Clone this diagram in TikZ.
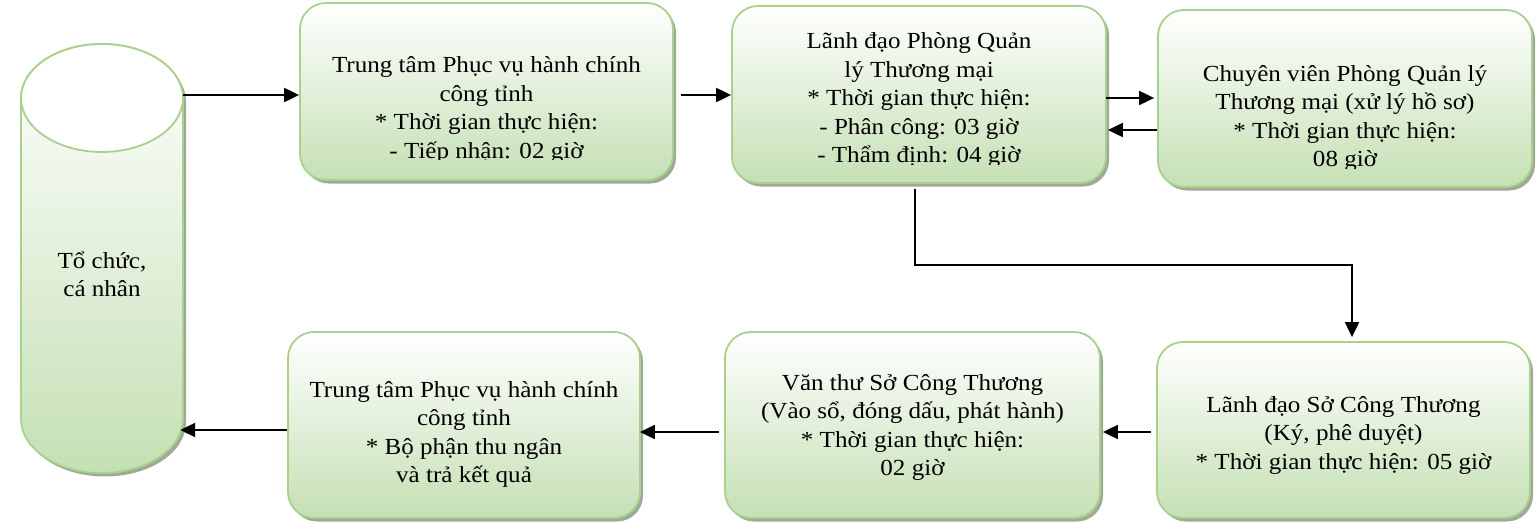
\documentclass[tikz,border=0pt]{standalone}
\usepackage{fontspec}
\setmainfont{Liberation Serif}[FakeStretch=1.09]
\usetikzlibrary{arrows.meta,shadows,calc}
\definecolor{gfill}{RGB}{197,224,180}
\definecolor{gline}{RGB}{169,209,142}
\definecolor{gshadow}{RGB}{150,160,140}
\begin{document}
\begin{tikzpicture}[x=1pt,y=-1pt,
  shad/.style={drop shadow={shadow xshift=3pt,shadow yshift=-3.5pt,fill=gshadow,opacity=0.9}},
  boxstyle/.style={draw=gline,line width=1.8pt,rounded corners=26pt,
    top color=white,bottom color=gfill,inner sep=0pt,shad},
  txt/.style={align=center,font=\fontsize{23}{28.5}\selectfont,inner sep=0pt,anchor=base},
  arr/.style={line width=2pt,-{Triangle[length=15pt,width=14pt]}}]
\useasboundingbox (0,0) rectangle (1537,524);
% cylinder
\path[shad,top color=white,bottom color=gfill,draw=gline,line width=1.8pt]
  (21,98) -- (21,419) arc[start angle=180,end angle=360,x radius=81pt,y radius=54pt]
  -- (183,98) arc[start angle=0,end angle=180,x radius=81pt,y radius=54pt] -- cycle;
\draw[draw=gline,fill=white,line width=1.8pt] (102,98) ellipse[x radius=81pt,y radius=54pt];
\node[inner sep=0pt,minimum width=162pt,minimum height=429pt] (cyl) at (102,258.5) {};
\node[txt] (torg) at (102,296.5) {Tổ chức,\\cá nhân};
% boxes
\node[boxstyle,minimum width=373pt,minimum height=177pt] (b1) at (486.5,91.5) {};
\node[boxstyle,minimum width=374pt,minimum height=177pt] (b2) at (919,94.5) {};
\node[boxstyle,minimum width=374pt,minimum height=177pt] (b3) at (1345,98.5) {};
\node[boxstyle,minimum width=373pt,minimum height=176pt] (b4) at (1343.5,430) {};
\node[boxstyle,minimum width=375pt,minimum height=186pt] (b5) at (912.5,425) {};
\node[boxstyle,minimum width=352pt,minimum height=186pt] (b6) at (464,425) {};
% texts (anchor=base is the baseline of the last line)
\begin{scope}
\clip (300,0) rectangle (680,160);
\node[txt] (t1) at (486.5,158.5) {Trung tâm Phục vụ hành chính\\công tỉnh\\* Thời gian thực hiện:\\- Tiếp nhận: 02 giờ};
\end{scope}
\begin{scope}
\clip (732,0) rectangle (1110,164.5);
\node[txt] (t2) at (919,162.5) {Lãnh đạo Phòng Quản\\lý Thương mại\\* Thời gian thực hiện:\\- Phân công: 03 giờ\\- Thẩm định: 04 giờ};
\end{scope}
\begin{scope}
\clip (1158,0) rectangle (1537,168.5);
\node[txt] (t3) at (1345,167) {Chuyên viên Phòng Quản lý\\Thương mại (xử lý hồ sơ)\\* Thời gian thực hiện:\\08 giờ};
\end{scope}
\node[txt] (t4) at (1343.5,469) {Lãnh đạo Sở Công Thương\\(Ký, phê duyệt)\\* Thời gian thực hiện: 05 giờ};
\node[txt] (t5) at (912.5,475.5) {Văn thư Sở Công Thương\\(Vào sổ, đóng dấu, phát hành)\\* Thời gian thực hiện:\\02 giờ};
\node[txt] (t6) at (464,482.5) {Trung tâm Phục vụ hành chính\\công tỉnh\\* Bộ phận thu ngân\\và trả kết quả};
% connectors
\draw[arr] ($(cyl.east |- b1.west)+(0,3.5)$) -- ($(b1.west)+(0,3.5)$);
\draw[arr] ($(b1.east)+(7,3.5)$) -- ($(b2.west)+(0,0.5)$);
\draw[arr] ($(b2.east |- b3.west)+(-1,-0.5)$) -- ($(b3.west)+(-3,-0.5)$);
\draw[arr] ($(b3.west)+(0,31.5)$) -- ($(b3.west -| b2.east)+(1,31.5)$);
\draw[arr] ($(b2.south)+(-4,5)$) -- ++(0,76) -| ($(b4.north)+(8.5,-4)$);
\draw[arr] ($(b4.west)+(-5,2)$) -- ($(b5.east)+(2,7)$);
\draw[arr] ($(b5.west)+(-5,7)$) -- ($(b6.east)+(-1,7)$);
\draw[arr] ($(b6.west)+(0,5)$) -- ($(cyl.east |- b6.west)+(-3,5)$);
\end{tikzpicture}
\end{document}
